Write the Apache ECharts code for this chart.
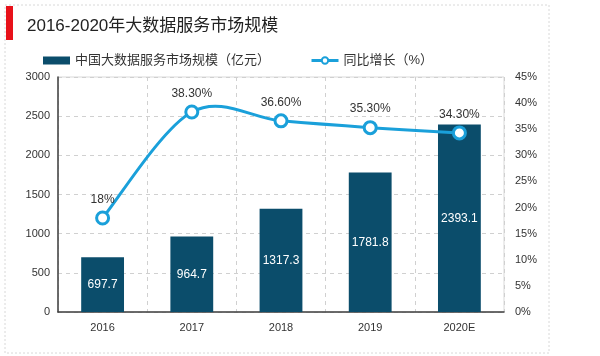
<!DOCTYPE html>
<html><head><meta charset="utf-8">
<script src="https://cdn.jsdelivr.net/npm/echarts@6/dist/echarts.min.js"></script>
<style>html,body{margin:0;padding:0;background:#fff}#c{width:600px;height:356px}</style>
</head><body><div id="c"></div>
<script>
const categories = ['2016','2017','2018','2019','2020E'];
const marketSize = [697.7, 964.7, 1317.3, 1781.8, 2393.1];
const growth = [18, 38.3, 36.6, 35.3, 34.3];
const growthLabels = ['18%','38.30%','36.60%','35.30%','34.30%'];
const leftTicks = [0, 3000, 500];
const rightTicks = [0, 45, 5];

const LINE = '#1aa0da';
const chart = echarts.init(document.getElementById('c'), null, {renderer:'canvas'});
const font = 'Arial, "Liberation Sans", "Noto Sans CJK SC", sans-serif';

// Catmull-Rom style smoothed segment (spreadsheet-like smoothing), computed through the axes
function renderSegment(params, api) {
  const i = params.dataIndex;
  const n = growth.length;
  if (i >= n - 1) return null;
  const P = k => api.coord([Math.max(0, Math.min(n - 1, k)), growth[Math.max(0, Math.min(n - 1, k))]]);
  const p0 = P(i - 1), p1 = P(i), p2 = P(i + 1), p3 = P(i + 2);
  const t = 1 / 6;
  return {
    type:'bezierCurve',
    shape:{
      x1:p1[0], y1:p1[1], x2:p2[0], y2:p2[1],
      cpx1:p1[0] + (p2[0] - p0[0]) * t, cpy1:p1[1] + (p2[1] - p0[1]) * t,
      cpx2:p2[0] - (p3[0] - p1[0]) * t, cpy2:p2[1] - (p3[1] - p1[1]) * t
    },
    style:{stroke:LINE, lineWidth:3, fill:null}
  };
}

chart.setOption({
  animation:false,
  textStyle:{fontFamily:font},
  graphic:[
    {type:'rect', shape:{x:5,y:5,width:544,height:348}, style:{fill:'none', stroke:'#d8d8d8', lineWidth:1, lineDash:[2,2]}},
    {type:'rect', shape:{x:6,y:6,width:7,height:34}, style:{fill:'#e8111a'}},
    {type:'text', left:27, top:18, style:{text:'2016-2020年大数据服务市场规模', fontSize:17, fill:'#222', fontFamily:font}}
  ],
  legend:{
    top:49, left:38, itemGap:40, itemWidth:27, itemHeight:8,
    textStyle:{fontSize:13, color:'#333', fontFamily:font},
    data:[
      {name:'中国大数据服务市场规模（亿元）', icon:'rect'},
      {name:'同比增长（%）', lineStyle:{color:LINE, width:3, opacity:1}}
    ]
  },
  grid:{left:58, right:96, top:77, bottom:44, show:true, borderColor:'#d9d9d9', borderWidth:1},
  xAxis:{
    type:'category', data:categories,
    axisLine:{lineStyle:{color:'#404040', width:1.5}},
    axisTick:{show:false},
    axisLabel:{color:'#333', fontSize:11, margin:10},
    splitLine:{show:true, lineStyle:{color:'#d0d0d0', type:[4,4]}}
  },
  yAxis:[
    {type:'value', min:leftTicks[0], max:leftTicks[1], interval:leftTicks[2],
     axisLine:{show:true, lineStyle:{color:'#404040', width:1.5}}, axisTick:{show:false},
     axisLabel:{color:'#333', fontSize:11, margin:8, formatter:v => String(v)},
     splitLine:{show:true, lineStyle:{color:'#d0d0d0', type:[4,4]}}},
    {type:'value', min:rightTicks[0], max:rightTicks[1], interval:rightTicks[2],
     axisLine:{show:false}, axisTick:{show:false},
     axisLabel:{color:'#333', fontSize:11, margin:11, formatter:'{value}%'},
     splitLine:{show:false}}
  ],
  series:[
    {name:'中国大数据服务市场规模（亿元）', type:'bar', data:marketSize, barWidth:'48%',
     itemStyle:{color:'#0b4d6b'},
     label:{show:true, position:'inside', color:'#fff', fontSize:12}},
    {type:'custom', yAxisIndex:1, z:3, silent:true,
     data:growth.map((v,i)=>[i,v]), encode:{x:0, y:1},
     renderItem:renderSegment, clip:false},
    {name:'同比增长（%）', type:'line', yAxisIndex:1, z:4,
     data:growth.map((v,i)=>({value:v, label:{formatter:growthLabels[i]}})),
     symbol:'circle', symbolSize:12,
     lineStyle:{color:LINE, width:3, opacity:0},
     itemStyle:{color:'#fff', borderColor:LINE, borderWidth:3},
     label:{show:true, position:'top', distance:5, color:'#333', fontSize:12}}
  ]
});
</script></body></html>
